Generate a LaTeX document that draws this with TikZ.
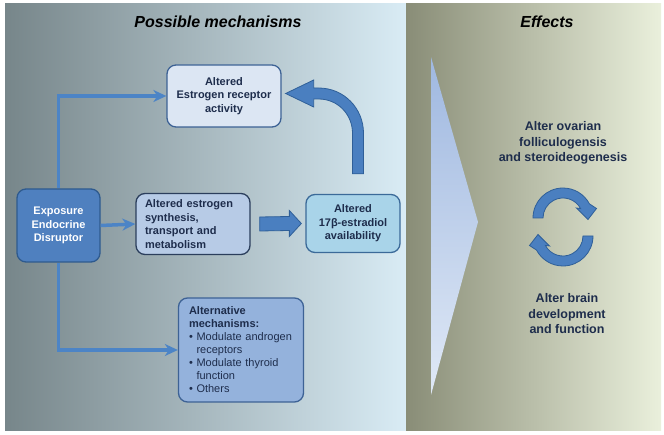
\documentclass[tikz,border=0pt]{standalone}
\usepackage{fontspec}
\setmainfont{Liberation Sans}
\usetikzlibrary{arrows.meta,calc}
\definecolor{navy}{HTML}{1E2D4C}
\definecolor{panelL}{HTML}{77868A}
\definecolor{panelR}{HTML}{D9ECF5}
\definecolor{effL}{HTML}{898D77}
\definecolor{effR}{HTML}{EAF0DC}
\definecolor{chevT}{HTML}{9FB8E0}
\definecolor{chevB}{HTML}{E0E9F6}
\definecolor{lineblue}{HTML}{4C84C6}
\definecolor{expfill}{HTML}{4F80BF}
\definecolor{expdraw}{HTML}{2E5A8E}
\definecolor{synfill}{HTML}{B7CBE6}
\definecolor{syndraw}{HTML}{2B3E5C}
\definecolor{estfill}{HTML}{A9D4E9}
\definecolor{estdraw}{HTML}{3B6A99}
\definecolor{erfill}{HTML}{DCE6F3}
\definecolor{altfill}{HTML}{94B2DC}
\definecolor{boxdraw}{HTML}{3D6295}
\definecolor{blkfill}{HTML}{4A7FC0}
\definecolor{blkdraw}{HTML}{2F5F98}
\begin{document}
\begin{tikzpicture}[x=1pt,y=-1pt,
  mbox/.style={draw, rounded corners=9pt, line width=1.3pt, inner sep=0pt,
    font=\fontsize{11}{13.5}\selectfont\bfseries, text=navy, align=center},
  title/.style={font=\fontsize{16}{19}\selectfont\bfseries\itshape, text=black},
  efftext/.style={font=\fontsize{12.5}{15.5}\selectfont\bfseries, text=navy, align=center},
  conn/.style={draw=lineblue, line width=3.5pt,
    -{Stealth[length=13pt, width=12pt, inset=4pt]}},
  blk/.style={fill=blkfill, draw=blkdraw, line width=0.8pt, line join=miter}
]
\useasboundingbox (0,0) rectangle (664,435);
\fill[white] (0,0) rectangle (664,435);
\shade[left color=panelL, right color=panelR] (5,4) rectangle (406,430);
\shade[left color=effL, right color=effR] (406,4) rectangle (661,430);
\shade[top color=chevT, bottom color=chevB] (431,57) -- (478,222) -- (431,395) -- cycle;

\node[title] (t1) at (218,22) {Possible mechanisms};
\node[title] (t2) at (547,22) {Effects};

\node[mbox, fill=erfill, draw=boxdraw, minimum width=114pt, minimum height=62pt] (er) at (224,96)
  {Altered\\Estrogen receptor\\activity};
\node[mbox, fill=expfill, draw=expdraw, text=white, minimum width=83pt, minimum height=73pt] (exp) at (58.5,225.5)
  {Exposure\\Endocrine\\Disruptor};
\node[mbox, fill=synfill, draw=syndraw, minimum width=114pt, minimum height=61pt,
  text width=96pt, align=left] (syn) at (193,224)
  {Altered estrogen\\synthesis,\\transport and\\metabolism};
\node[mbox, fill=estfill, draw=estdraw, minimum width=94pt, minimum height=58pt] (est) at (353,223.5)
  {Altered\\17β-estradiol\\availability};
\node[mbox, fill=altfill, draw=boxdraw, minimum width=125pt, minimum height=104pt,
  text width=104pt, align=left, font=\fontsize{11}{13}\selectfont] (alt) at (241,350)
  {\textbf{Alternative}\\\textbf{mechanisms:}\\
   \mbox{\textbullet\ Modulate androgen}\\\phantom{\textbullet\ }receptors\\
   \mbox{\textbullet\ Modulate thyroid}\\\phantom{\textbullet\ }function\\
   \textbullet\ Others};

\draw[conn] (exp.north) |- (er.west);
\draw[conn] (exp.south) |- (alt.west);
\draw[conn] (exp.east) -- (syn.west);

% straight block arrow
\filldraw[blk] ($(syn.east)+(9,-7)$) -- ($(est.west)+(-16,-7)$) -- ($(est.west)+(-16,-13)$)
  -- ($(est.west)+(-4,0)$) -- ($(est.west)+(-16,13)$) -- ($(est.west)+(-16,7)$)
  -- ($(syn.east)+(9,7)$) -- cycle;

% curved block arrow
\coordinate (cb) at ($(est.north)+(5,-20)$);
\coordinate (ct) at ($(er.east)+(4,-2.5)$);
\filldraw[blk] ($(cb)+(-5.5,0)$) -- ($(cb)+(-5.5,-40.5)$)
  .. controls ($(cb)+(-5.5,-59.55)$) and ($(ct)+(52.05,5.5)$) .. ($(ct)+(33,5.5)$)
  -- ($(ct)+(28,5.5)$) -- ($(ct)+(28,13.5)$) -- (ct) -- ($(ct)+(28,-13.5)$)
  -- ($(ct)+(28,-5.5)$) -- ($(ct)+(33,-5.5)$)
  .. controls ($(ct)+(58.13,-5.5)$) and ($(cb)+(5.5,-65.63)$) .. ($(cb)+(5.5,-40.5)$)
  -- ($(cb)+(5.5,0)$) -- cycle;

\node[efftext] (ov) at (563,143) {Alter ovarian\\folliculogensis\\and steroideogenesis};
\node[efftext] (br) at (567,314) {Alter brain\\development\\and function};

\begin{scope}[shift={(563,218)}]
\filldraw[blk] (180:30pt) arc[start angle=180, end angle=28, radius=30pt] -- (33.5pt,9.5pt)
  -- (25pt,-1.5pt) -- (13.5pt,10pt) -- (28:20pt) arc[start angle=28, end angle=180, radius=20pt] -- cycle;
\end{scope}
\begin{scope}[shift={(563,236)}]
\filldraw[blk] (0:30pt) arc[start angle=0, end angle=-152, radius=30pt] -- (-33.5pt,-9.5pt)
  -- (-25pt,1.5pt) -- (-13.5pt,-10pt) -- (208:20pt) arc[start angle=-152, end angle=0, radius=20pt] -- cycle;
\end{scope}
\end{tikzpicture}
\end{document}
